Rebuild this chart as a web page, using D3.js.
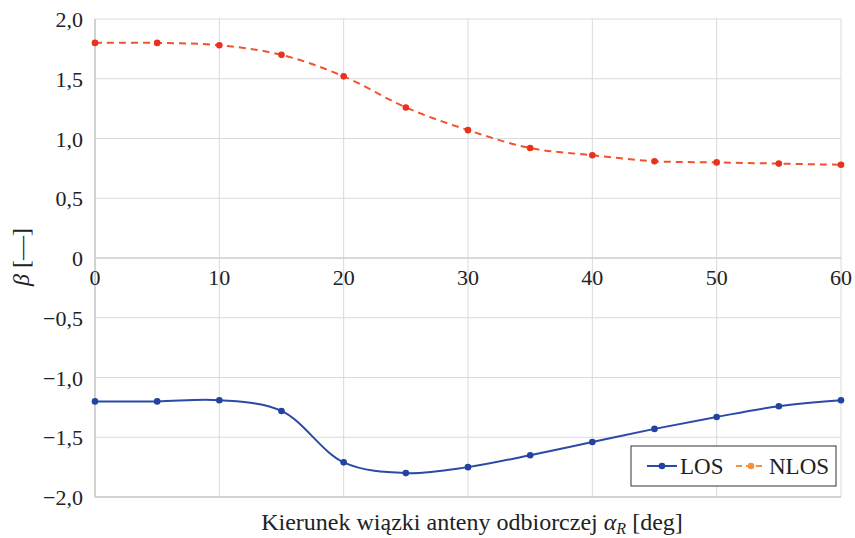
<!DOCTYPE html>
<html>
<head>
<meta charset="utf-8">
<script src="https://cdn.jsdelivr.net/npm/d3@7"></script>
<style>
  body { margin: 0; background: #fff; }
</style>
</head>
<body>
<div id="chart"></div>
<script>
// data
const angles = [0, 5, 10, 15, 20, 25, 30, 35, 40, 45, 50, 55, 60];
const losValues = [-1.20, -1.20, -1.19, -1.28, -1.71, -1.80, -1.75, -1.65, -1.54, -1.43, -1.33, -1.24, -1.19];
const nlosValues = [1.80, 1.80, 1.78, 1.70, 1.52, 1.26, 1.07, 0.92, 0.86, 0.81, 0.80, 0.79, 0.78];
const xTicks = [0, 10, 20, 30, 40, 50, 60];
const yTicks = [-2.0, -1.5, -1.0, -0.5, 0, 0.5, 1.0, 1.5, 2.0];
const seriesNames = ["LOS", "NLOS"];

const width = 855, height = 538;
const margin = { top: 19, right: 14, bottom: 41, left: 95 };
const serif = "'Liberation Serif', 'Times New Roman', 'DejaVu Serif', serif";

const svg = d3.select("#chart").append("svg")
    .attr("width", width)
    .attr("height", height)
    .style("font-family", serif);

const x = d3.scaleLinear().domain([0, 60]).range([margin.left, width - margin.right]);
const y = d3.scaleLinear().domain([-2, 2]).range([height - margin.bottom, margin.top]);

const fmt = v => {
    if (v === 0) return "0";
    return (v < 0 ? "\u2212" : "") + Math.abs(v).toFixed(1).replace(".", ",");
};

// grid
svg.append("g").selectAll("line")
    .data(xTicks)
    .join("line")
    .attr("x1", d => x(d)).attr("x2", d => x(d))
    .attr("y1", y(2)).attr("y2", y(-2))
    .attr("stroke", "#dadada").attr("stroke-width", 1);

svg.append("g").selectAll("line")
    .data(yTicks)
    .join("line")
    .attr("x1", x(0)).attr("x2", x(60))
    .attr("y1", d => y(d)).attr("y2", d => y(d))
    .attr("stroke", "#dadada").attr("stroke-width", 1);

// left and bottom frame
svg.append("line")
    .attr("x1", x(0)).attr("x2", x(0)).attr("y1", y(2)).attr("y2", y(-2))
    .attr("stroke", "#d2d2d2").attr("stroke-width", 2);
svg.append("line")
    .attr("x1", x(0)).attr("x2", x(60)).attr("y1", y(-2)).attr("y2", y(-2))
    .attr("stroke", "#d2d2d2").attr("stroke-width", 2);
svg.append("line")
    .attr("x1", x(0)).attr("x2", x(60)).attr("y1", y(0)).attr("y2", y(0))
    .attr("stroke", "#d2d2d2").attr("stroke-width", 1.5);

// y tick labels
svg.append("g").selectAll("text")
    .data(yTicks)
    .join("text")
    .attr("x", 83)
    .attr("y", d => y(d) + 8)
    .attr("text-anchor", "end")
    .attr("font-family", serif)
    .attr("font-size", "22px")
    .attr("fill", "#222")
    .text(fmt);

// x tick labels along the zero line
svg.append("g").selectAll("text")
    .data(xTicks)
    .join("text")
    .attr("x", d => x(d))
    .attr("y", y(0) + 27)
    .attr("text-anchor", "middle")
    .attr("font-family", serif)
    .attr("font-size", "22px")
    .attr("fill", "#222")
    .text(d => d);

// axis titles
const xt = svg.append("text")
    .attr("x", (x(0) + x(60)) / 2 + 4)
    .attr("y", 530)
    .attr("text-anchor", "middle")
    .attr("font-family", serif)
    .attr("font-size", "24px")
    .attr("fill", "#222");
xt.append("tspan").text("Kierunek wiązki anteny odbiorczej ");
xt.append("tspan").attr("font-style", "italic").text("α");
xt.append("tspan").attr("font-style", "italic").attr("font-size", "16px").attr("dy", 4).text("R");
xt.append("tspan").attr("dy", -4).text(" [deg]");

const yt = svg.append("text")
    .attr("transform", "translate(29," + (y(0) - 1) + ") rotate(-90)")
    .attr("text-anchor", "middle")
    .attr("font-family", serif)
    .attr("font-size", "24px")
    .attr("fill", "#222");
yt.append("tspan").attr("font-style", "italic").text("β");
yt.append("tspan").text(" [\u2014]");

// series
const line = d3.line()
    .x((d, i) => x(angles[i]))
    .y(d => y(d))
    .curve(d3.curveCatmullRom.alpha(0.5));

svg.append("path")
    .datum(nlosValues)
    .attr("d", line)
    .attr("fill", "none")
    .attr("stroke", "#f0532e")
    .attr("stroke-width", 2)
    .attr("stroke-dasharray", "7,5");

svg.append("g").selectAll("circle")
    .data(nlosValues)
    .join("circle")
    .attr("cx", (d, i) => x(angles[i]))
    .attr("cy", d => y(d))
    .attr("r", 3.3)
    .attr("fill", "#e8321f");

svg.append("path")
    .datum(losValues)
    .attr("d", line)
    .attr("fill", "none")
    .attr("stroke", "#2b4aa6")
    .attr("stroke-width", 2);

svg.append("g").selectAll("circle")
    .data(losValues)
    .join("circle")
    .attr("cx", (d, i) => x(angles[i]))
    .attr("cy", d => y(d))
    .attr("r", 3.3)
    .attr("fill", "#2443a0");

// legend
const lg = svg.append("g").attr("transform", "translate(631,446)");
lg.append("rect")
    .attr("width", 205).attr("height", 40)
    .attr("fill", "#fff")
    .attr("stroke", "#333").attr("stroke-width", 1);

lg.append("line").attr("x1", 16).attr("x2", 46).attr("y1", 20).attr("y2", 20)
    .attr("stroke", "#2b4aa6").attr("stroke-width", 2);
lg.append("circle").attr("cx", 31).attr("cy", 20).attr("r", 3.3).attr("fill", "#2443a0");
lg.append("text").attr("x", 49).attr("y", 28)
    .attr("font-family", serif).attr("font-size", "23px").attr("fill", "#222")
    .text(seriesNames[0]);

lg.append("line").attr("x1", 105).attr("x2", 135).attr("y1", 20).attr("y2", 20)
    .attr("stroke", "#f5913c").attr("stroke-width", 2).attr("stroke-dasharray", "6,4");
lg.append("circle").attr("cx", 120).attr("cy", 20).attr("r", 3.3).attr("fill", "#f5913c");
lg.append("text").attr("x", 138).attr("y", 28)
    .attr("font-family", serif).attr("font-size", "23px").attr("fill", "#222")
    .text(seriesNames[1]);
</script>
</body>
</html>
